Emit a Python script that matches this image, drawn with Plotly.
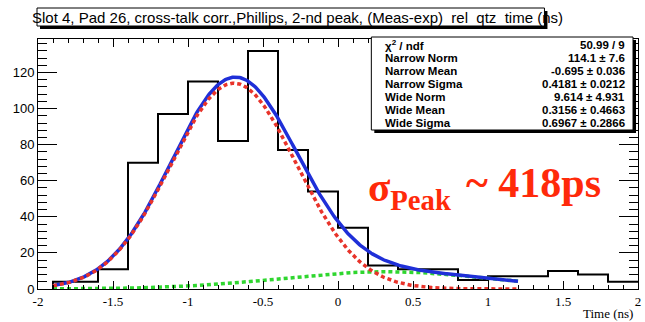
import numpy as np
import plotly.graph_objects as go

# ---- histogram data (bin edges and counts) ----
bin_edges = [-1.9, -1.6, -1.4, -1.2, -1.0, -0.8, -0.6, -0.4, -0.2, 0.0,
             0.2, 0.4, 0.6, 0.8, 1.0, 1.2, 1.4, 1.6, 1.8, 2.0]
bin_counts = [4, 11, 70, 97, 115, 82, 132, 77, 54, 34,
              13, 11, 11, 5, 7, 7, 10, 8, 4]

# ---- double-gaussian fit parameters ----
narrow_norm, narrow_mean, narrow_sigma = 114.1, -0.695, 0.4181
wide_norm, wide_mean, wide_sigma = 9.614, 0.3156, 0.6967
fit_range = (-1.9, 1.2)

stat_names = ["χ<sup>2</sup> / ndf", "Narrow Norm", "Narrow Mean", "Narrow Sigma",
              "Wide Norm", "Wide Mean", "Wide Sigma"]
stat_values = ["50.99 / 9", "114.1 ± 7.6", "-0.695 ± 0.036", "0.4181 ± 0.0212",
               "9.614 ± 4.931", "0.3156 ± 0.4663", "0.6967 ± 0.2866"]

x_tick_vals = [-2, -1.5, -1, -0.5, 0, 0.5, 1, 1.5, 2]
x_tick_text = ["-2", "-1.5", "-1", "-0.5", "0", "0.5", "1", "1.5", "2"]
y_tick_vals = [0, 20, 40, 60, 80, 100, 120]
y_tick_text = ["0", "20", "40", "60", "80", "100", "120"]

title_text = ("Slot 4, Pad 26, cross-talk corr.,Phillips, 2-nd peak, (Meas-exp)"
              "\u00a0\u00a0rel\u00a0\u00a0qtz\u00a0\u00a0time (ns)")

# ---- figure geometry (pixels) ----
W, H = 645, 322
L, R, T, B = 38, 4, 39, 33
PW, PH = W - L - R, H - T - B


def px(x):
    return (x - L) / PW


def py(y):
    return (H - B - y) / PH


def gauss(x, n, m, s):
    return n * np.exp(-0.5 * ((x - m) / s) ** 2)


# histogram outline as a step line
hx = [bin_edges[0]] + list(bin_edges)
hy = [0] + list(bin_counts) + [bin_counts[-1]]

xf = np.linspace(fit_range[0], fit_range[1], 400)
y_narrow = gauss(xf, narrow_norm, narrow_mean, narrow_sigma)
y_wide = gauss(xf, wide_norm, wide_mean, wide_sigma)
y_total = y_narrow + y_wide

fig = go.Figure()
fig.add_trace(go.Scatter(x=hx, y=hy, mode="lines", line=dict(color="black", width=2, shape="hv"),
                         hoverinfo="skip"))
fig.add_trace(go.Scatter(x=xf, y=y_wide, mode="lines",
                         line=dict(color="#2fd62f", width=3.5, dash="4px,3px")))
fig.add_trace(go.Scatter(x=xf, y=y_total, mode="lines",
                         line=dict(color="#1f2fd8", width=3.5)))
fig.add_trace(go.Scatter(x=xf, y=y_narrow, mode="lines",
                         line=dict(color="#e8332a", width=3.5, dash="4px,3px")))

axis_common = dict(showgrid=False, zeroline=False, showline=True, linecolor="black",
                   linewidth=1, mirror="ticks", ticks="inside", tickcolor="black",
                   tickwidth=1)

fig.update_xaxes(range=[-2, 2], tickvals=x_tick_vals, ticktext=x_tick_text, ticklen=8,
                 tickfont=dict(family="Liberation Serif", size=13, color="black"),
                 minor=dict(dtick=0.1, ticks="inside", ticklen=4, tickcolor="black"),
                 **axis_common)
fig.update_yaxes(range=[0, 138.6], tickvals=y_tick_vals, ticktext=y_tick_text, ticklen=19,
                 tickfont=dict(family="Liberation Sans Narrow, Liberation Sans", size=13,
                               color="black"),
                 minor=dict(dtick=4, ticks="inside", ticklen=9, tickcolor="black"),
                 **axis_common)

shapes = []
annotations = []

# title box with shadow
shapes.append(dict(type="rect", xref="paper", yref="paper", x0=px(40), x1=px(550),
                   y0=py(29), y1=py(11), fillcolor="black", line=dict(width=0), layer="above"))
shapes.append(dict(type="rect", xref="paper", yref="paper", x0=px(37), x1=px(547),
                   y0=py(26), y1=py(8), fillcolor="white", line=dict(color="black", width=1),
                   layer="above"))
annotations.append(dict(xref="paper", yref="paper", x=px(30), y=py(17.5), xanchor="left",
                        yanchor="middle", text=title_text, showarrow=False,
                        font=dict(family="Liberation Sans", size=15, color="black")))

# statistics box with shadow
shapes.append(dict(type="rect", xref="paper", yref="paper", x0=px(376), x1=px(639),
                   y0=py(133), y1=py(40), fillcolor="black", line=dict(width=0), layer="above"))
shapes.append(dict(type="rect", xref="paper", yref="paper", x0=px(373), x1=px(636),
                   y0=py(130), y1=py(37), fillcolor="white", line=dict(color="black", width=1),
                   layer="above"))
for i, (name, val) in enumerate(zip(stat_names, stat_values)):
    yy = py(44.5 + 13.1 * i)
    annotations.append(dict(xref="paper", yref="paper", x=px(385), y=yy, xanchor="left",
                            yanchor="middle", text="<b>" + name + "</b>", showarrow=False,
                            font=dict(family="Liberation Sans", size=11.5, color="black")))
    annotations.append(dict(xref="paper", yref="paper", x=px(630), y=yy, xanchor="right",
                            yanchor="middle", text="<b>" + val + "</b>", showarrow=False,
                            font=dict(family="Liberation Sans", size=11.5, color="black")))

# x axis label
annotations.append(dict(xref="paper", yref="paper", x=px(638), y=py(313), xanchor="right",
                        yanchor="middle", text="Time (ns)", showarrow=False,
                        font=dict(family="Liberation Serif", size=13, color="black")))

# resolution label
annotations.append(dict(xref="paper", yref="paper", x=px(368), y=py(190), xanchor="left",
                        yanchor="middle", text="<b>σ<sub>Peak</sub></b>", showarrow=False,
                        font=dict(family="Liberation Serif", size=41, color="#ff2a0a")))
annotations.append(dict(xref="paper", yref="paper", x=px(466), y=py(183), xanchor="left",
                        yanchor="middle", text="<b>~ 418ps</b>", showarrow=False,
                        font=dict(family="Liberation Serif", size=42, color="#ff2a0a")))

fig.update_layout(width=W, height=H, margin=dict(l=L, r=R, t=T, b=B, pad=0),
                  paper_bgcolor="white", plot_bgcolor="white", showlegend=False,
                  shapes=shapes, annotations=annotations)

fig.write_html("out.html")
